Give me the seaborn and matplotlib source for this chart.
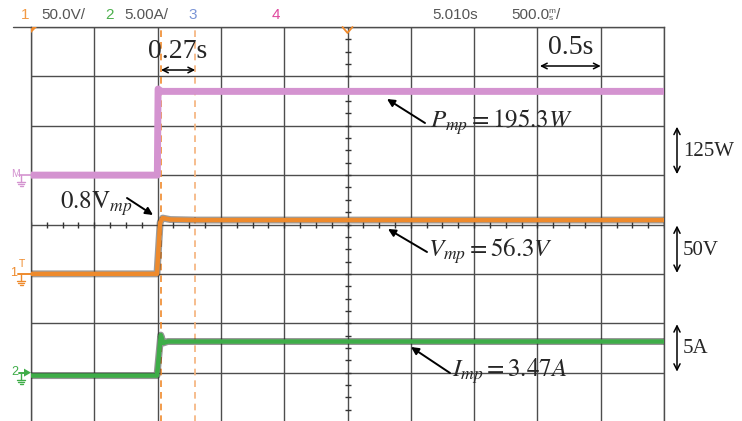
import numpy as np
import pandas as pd
import matplotlib
matplotlib.use("Agg")
import matplotlib.pyplot as plt
import matplotlib.patheffects as pe
import seaborn as sns

# ---------------- data ----------------
# time axis: 500 ms/div, 10 div
t_power = [0.0, 0.998, 1.004, 1.03, 5.0]
power_w = [0.0, 0.0, 218.0, 212.0, 212.0]          # 125 W/div, ground at +1 div

t_volt = [0.0, 0.995, 1.02, 1.04, 1.10, 1.30, 5.0]
volt_v = [0.0, 0.0, 52.0, 56.5, 55.0, 54.5, 54.5]   # 50 V/div, ground at -1 div

t_curr = [0.0, 0.995, 1.025, 1.045, 1.08, 5.0]
curr_a = [-0.3, -0.3, 3.8, 3.0, 3.15, 3.15]         # 5 A/div, ground at -3 div

cursor_t = [1.027, 1.297]

scale = {"P": 125.0, "V": 50.0, "I": 5.0}
offset = {"P": 1.0, "V": -1.0, "I": -3.0}

header_items = [("1", "#F29A45"), ("50.0V/", "#555555"), ("2", "#4DB04D"),
                ("5.00A/", "#555555"), ("3", "#7A94D6"), ("4", "#E0479E"),
                ("5.010s", "#555555"), ("500.0", "#555555")]
header_x = [21, 41, 105, 124, 188, 272, 432, 511]

ann_labels = [r"$\mathrm{0.8V}_{mp}$", r"$P_{mp}=195.3W$", r"$V_{mp}=56.3V$", r"$I_{mp}=3.47A$"]
scale_labels = ["125W", "50V", "5A"]
dt_labels = ["0.27s", "0.5s"]

c_p, c_v, c_i = "#D493D0", "#EE8A2C", "#3EAD48"

# ---------------- figure ----------------
sns.set_style("white")
plt.rcParams["mathtext.fontset"] = "stix"
plt.rcParams["font.family"] = ["DejaVu Sans"]

W, H = 742, 421
fig = plt.figure(figsize=(W / 100, H / 100), dpi=100)
fig.patch.set_facecolor("white")

L, T, R, B = 31, 27, 664, 422
ax = fig.add_axes([L / W, (H - B) / H, (R - L) / W, (B - T) / H])
ax.set_xlim(0, 5)
ax.set_ylim(-4, 4)
ax.set_xticks(np.arange(0, 5.01, 0.5))
ax.set_yticks(np.arange(-4, 4.01, 1))
ax.grid(True, color="#4d4d4d", lw=1.0)
ax.tick_params(length=0, labelbottom=False, labelleft=False)
for s in ax.spines.values():
    s.set_color("#4d4d4d")
    s.set_linewidth(1.0)

# minor ticks on the centre lines
xs = np.arange(0, 5.001, 0.125)
ax.plot(xs, np.zeros_like(xs), ls="none", marker="|", ms=4.5, mew=1, color="#333333", zorder=2)
ys = np.arange(-4, 4.001, 0.25)
ax.plot(np.full_like(ys, 2.5), ys, ls="none", marker="_", ms=4.5, mew=1, color="#333333", zorder=2)

# cursors
for k, tc in enumerate(cursor_t):
    ax.axvline(tc, color="#F08A2C" if k == 0 else "#F5B27A", lw=1.2, ls=(0, (4, 3)), zorder=3)

def to_div(vals, key):
    return [v / scale[key] + offset[key] for v in vals]

df_p = pd.DataFrame({"t": t_power, "y": to_div(power_w, "P")})
df_v = pd.DataFrame({"t": t_volt, "y": to_div(volt_v, "V")})
df_i = pd.DataFrame({"t": t_curr, "y": to_div(curr_a, "I")})

sns.lineplot(data=df_p, x="t", y="y", ax=ax, color=c_p, lw=5, estimator=None, sort=False, zorder=4)
sns.lineplot(data=df_v, x="t", y="y", ax=ax, color=c_v, lw=3.2, estimator=None, sort=False, zorder=4,
             path_effects=[pe.Stroke(linewidth=5, foreground="#3a3a3a", alpha=0.5), pe.Normal()])
sns.lineplot(data=df_i, x="t", y="y", ax=ax, color=c_i, lw=3.2, estimator=None, sort=False, zorder=4,
             path_effects=[pe.Stroke(linewidth=5, foreground="#2a2a2a", alpha=0.5), pe.Normal()])
ax.set_xlabel("")
ax.set_ylabel("")

# ---------------- overlay in pixel coordinates ----------------
deco = fig.add_axes([0, 0, 1, 1], zorder=10)
deco.set_xlim(0, W)
deco.set_ylim(H, 0)
deco.axis("off")
deco.patch.set_alpha(0)

def ypx(div):
    return T + (4 - div) * (B - T) / 8

def xpx(t):
    return L + t * (R - L) / 5

# top border extension
deco.plot([13, L], [T, T], color="#4d4d4d", lw=1.0)

# header
hfam = ["Liberation Sans Narrow", "Liberation Sans"]
for (txt, col), x in zip(header_items, header_x):
    deco.text(x, 15, txt, color=col, fontsize=11, va="center", ha="left", family=hfam)
deco.text(548, 11.5, "m", color="#555555", fontsize=6, va="center", ha="left", family="Liberation Sans")
deco.text(549, 18.5, "s", color="#555555", fontsize=6, va="center", ha="left", family="Liberation Sans")
deco.text(556, 15, "/", color="#555555", fontsize=11, va="center", ha="left", family=hfam)

# top markers
deco.fill([L, L + 6, L], [T, T, T + 6], color="#F08A2C", lw=0)
deco.plot([xpx(2.5) - 5, xpx(2.5), xpx(2.5) + 5], [T, T + 6, T], color="#F08A2C", lw=1.3)

# channel ground markers
def ground(x, y, col):
    deco.plot([x, x], [y, y + 7], color=col, lw=1)
    for k, hw in enumerate([4, 2.8, 1.5]):
        deco.plot([x - hw, x + hw], [y + 7 + 2 * k, y + 7 + 2 * k], color=col, lw=1)

yM = ypx(offset["P"])
deco.text(15, yM - 1, "M", color=c_p, fontsize=7.5, ha="center", va="center", family="Liberation Sans")
deco.plot([19, L], [yM, yM], color=c_p, lw=1.2)
ground(21, yM, c_p)

y1 = ypx(offset["V"])
deco.text(14, y1 - 1, "1", color=c_v, fontsize=9, ha="center", va="center", family="Liberation Sans")
deco.text(22, y1 - 10, "T", color=c_v, fontsize=7.5, ha="center", va="center", family="Liberation Sans")
deco.plot([18, L], [y1, y1], color=c_v, lw=1.4)
ground(21, y1, c_v)

y2 = ypx(offset["I"])
deco.text(15, y2 - 1, "2", color=c_i, fontsize=9, ha="center", va="center", family="Liberation Sans")
deco.fill([24, L, 24], [y2 - 4, y2, y2 + 4], color=c_i, lw=0)
deco.plot([19, 24], [y2, y2], color=c_i, lw=1.4)
ground(21, y2, c_i)

# time interval arrows
deco.annotate("", xy=(xpx(cursor_t[0]), 70), xytext=(xpx(cursor_t[1]), 70),
              arrowprops=dict(arrowstyle="<->", lw=1.1, color="black", mutation_scale=10,
                              shrinkA=0, shrinkB=0))
deco.text(xpx((cursor_t[0] + cursor_t[1]) / 2), 58, dt_labels[0], fontsize=20, ha="center",
          va="baseline", family="Liberation Serif")
deco.annotate("", xy=(xpx(4.02), 66), xytext=(xpx(4.50), 66),
              arrowprops=dict(arrowstyle="<->", lw=1.1, color="black", mutation_scale=10,
                              shrinkA=0, shrinkB=0))
deco.text(xpx(4.26), 54, dt_labels[1], fontsize=20, ha="center", va="baseline", family="Liberation Serif")

# scale arrows on the right (one division each, starting at the channel ground)
for lbl, key in zip(scale_labels, ["P", "V", "I"]):
    d = offset[key]
    top_y, bot_y = ypx(d + 1), ypx(d)
    deco.annotate("", xy=(677, top_y + 1), xytext=(677, bot_y - 1),
                  arrowprops=dict(arrowstyle="<->", lw=1.1, color="black", mutation_scale=11,
                                  shrinkA=0, shrinkB=0))
    deco.text(683, (top_y + bot_y) / 2 + 1, lbl, fontsize=15, ha="left", va="center",
              family="Liberation Serif")

# value annotations
arr = dict(arrowstyle="-|>", lw=1.4, color="black", mutation_scale=11, shrinkA=0, shrinkB=0)
deco.text(60, 209, ann_labels[0], fontsize=18, ha="left", va="baseline")
deco.annotate("", xy=(153, 215), xytext=(127, 198), arrowprops=arr)

deco.text(430, 128, ann_labels[1], fontsize=18, ha="left", va="baseline")
deco.annotate("", xy=(387, 99), xytext=(425, 123), arrowprops=arr)

deco.text(428, 257, ann_labels[2], fontsize=18, ha="left", va="baseline")
deco.annotate("", xy=(388, 229), xytext=(427, 252), arrowprops=arr)

deco.text(452, 377, ann_labels[3], fontsize=18, ha="left", va="baseline")
deco.annotate("", xy=(411, 347), xytext=(450, 373), arrowprops=arr)

fig.savefig("out.png", dpi=100, facecolor="white")
